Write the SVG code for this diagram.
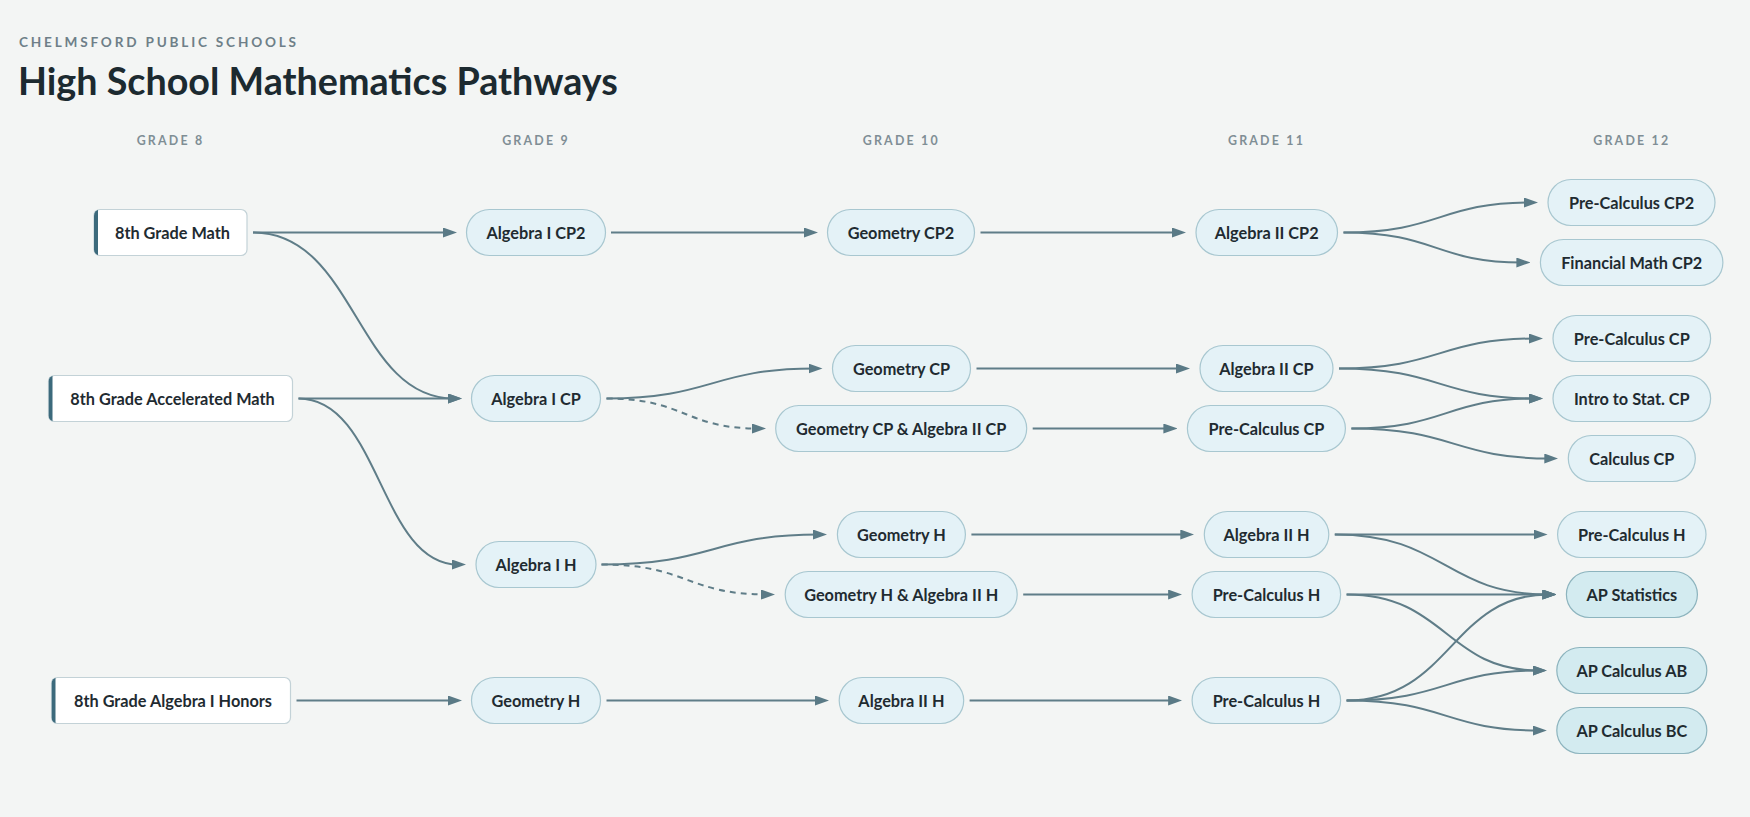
<svg xmlns="http://www.w3.org/2000/svg" width="1750" height="817" viewBox="0 0 1750 817">
<defs>
<style>
.bg{fill:#f3f5f4}
.kicker{font-family:Lato,"Liberation Sans",sans-serif;font-weight:700;font-size:13.6px;letter-spacing:2.8px;fill:#6e7f88}
.title{font-family:Lato,"Liberation Sans",sans-serif;font-weight:700;font-size:37.7px;fill:#1c2a30}
.grade{font-family:Lato,"Liberation Sans",sans-serif;font-weight:700;font-size:12.4px;letter-spacing:2.2px;fill:#7f8e95;text-anchor:middle}
.lbl{font-family:Lato,"Liberation Sans",sans-serif;font-weight:700;font-size:16.3px;fill:#1f2b31;text-anchor:middle}
.start rect.box{fill:#ffffff;stroke:#c3d2d7;stroke-width:1.2}
.start rect.bar{fill:#3c6a7c}
.pill rect{fill:#e4f2f7;stroke:#a8c7d0;stroke-width:1.2}
.ap rect{fill:#d3ebf0;stroke:#8db4be;stroke-width:1.2}
.edge{fill:none;stroke:#5f7d88;stroke-width:2}
.dash{stroke-dasharray:6 5}
</style>
<marker id="arr" viewBox="0 0 14 10" refX="6" refY="5" markerWidth="14" markerHeight="10" markerUnits="userSpaceOnUse" orient="auto">
<path d="M0,0 L14,5 L0,10 z" fill="#5a7a86"/>
</marker>
<clipPath id="c8math"><rect x="94" y="209.5" width="153" height="46" rx="6"/></clipPath>
<clipPath id="c8acc"><rect x="48.5" y="375.5" width="244" height="46" rx="6"/></clipPath>
<clipPath id="c8hon"><rect x="51.5" y="677.5" width="239" height="46" rx="6"/></clipPath>
</defs>
<rect class="bg" x="0" y="0" width="1750" height="817"/>

<g id="header">
<text class="kicker" x="19" y="47">CHELMSFORD PUBLIC SCHOOLS</text>
<text class="title" x="18" y="95">High School Mathematics Pathways</text>
<text class="grade" x="170.5" y="145">GRADE 8</text>
<text class="grade" x="536" y="145">GRADE 9</text>
<text class="grade" x="901.3" y="145">GRADE 10</text>
<text class="grade" x="1266.5" y="145">GRADE 11</text>
<text class="grade" x="1631.8" y="145">GRADE 12</text>
</g>

<g id="connectors" marker-end="url(#arr)">
<path class="edge" d="M253,232.5 L449,232.5"/>
<path class="edge" d="M253,232.5 C356,232.5 356,398.5 454,398.5"/>
<path class="edge" d="M298.5,398.5 L454,398.5"/>
<path class="edge" d="M298.5,398.5 C380,398.5 380,564.5 458,564.5"/>
<path class="edge" d="M296.5,700.5 L454,700.5"/>
<path class="edge" d="M611,232.5 L810,232.5"/>
<path class="edge" d="M606.5,398.5 C712,398.5 712,368.5 814.5,368.5"/>
<path class="edge dash" d="M606.5,398.5 C685,398.5 685,428.5 758,428.5"/>
<path class="edge" d="M601.5,564.5 C713,564.5 713,534.5 819,534.5"/>
<path class="edge dash" d="M601.5,564.5 C687,564.5 687,594.5 767,594.5"/>
<path class="edge" d="M606.5,700.5 L821,700.5"/>
<path class="edge" d="M980.5,232.5 L1178,232.5"/>
<path class="edge" d="M976.5,368.5 L1182,368.5"/>
<path class="edge" d="M1032.7,428.5 L1169.4,428.5"/>
<path class="edge" d="M971.4,534.5 L1186.3,534.5"/>
<path class="edge" d="M1023.2,594.5 L1174.1,594.5"/>
<path class="edge" d="M969.6,700.5 L1174.1,700.5"/>
<path class="edge" d="M1343.5,232.5 C1440,232.5 1440,202.5 1530,202.5"/>
<path class="edge" d="M1343.5,232.5 C1436,232.5 1436,262.5 1522.4,262.5"/>
<path class="edge" d="M1339,368.5 C1440,368.5 1440,338.5 1535,338.5"/>
<path class="edge" d="M1339,368.5 C1440,368.5 1440,398.5 1535,398.5"/>
<path class="edge" d="M1351.4,428.5 C1446,428.5 1446,398.5 1535,398.5"/>
<path class="edge" d="M1351.4,428.5 C1454,428.5 1454,458.5 1550.3,458.5"/>
<path class="edge" d="M1334.8,534.5 L1539.6,534.5"/>
<path class="edge" d="M1334.8,534.5 C1445,534.5 1445,594.5 1548.4,594.5"/>
<path class="edge" d="M1346.6,594.5 L1548.4,594.5"/>
<path class="edge" d="M1346.6,594.5 C1446,594.5 1446,670.5 1538.8,670.5"/>
<path class="edge" d="M1346.6,700.5 C1451,700.5 1451,594.5 1548.4,594.5"/>
<path class="edge" d="M1346.6,700.5 C1446,700.5 1446,670.5 1538.8,670.5"/>
<path class="edge" d="M1346.6,700.5 C1446,700.5 1446,730.5 1538.8,730.5"/>
</g>

<g id="n-8th-grade-math" class="start">
<rect class="box" x="94" y="209.5" width="153" height="46" rx="6"/>
<rect class="bar" x="94" y="209.5" width="4" height="46" clip-path="url(#c8math)"/>
<text class="lbl" x="172.5" y="238.5">8th Grade Math</text>
</g>
<g id="n-8th-grade-accelerated" class="start">
<rect class="box" x="48.5" y="375.5" width="244" height="46" rx="6"/>
<rect class="bar" x="48.5" y="375.5" width="4" height="46" clip-path="url(#c8acc)"/>
<text class="lbl" x="172.5" y="404.5">8th Grade Accelerated Math</text>
</g>
<g id="n-8th-grade-algebra-honors" class="start">
<rect class="box" x="51.5" y="677.5" width="239" height="46" rx="6"/>
<rect class="bar" x="51.5" y="677.5" width="4" height="46" clip-path="url(#c8hon)"/>
<text class="lbl" x="173" y="706.5">8th Grade Algebra I Honors</text>
</g>

<g id="n-algebra1-cp2" class="pill"><rect x="466.5" y="209.5" width="139" height="46" rx="23"/><text class="lbl" x="536" y="238.5">Algebra I CP2</text></g>
<g id="n-algebra1-cp" class="pill"><rect x="471.5" y="375.5" width="129" height="46" rx="23"/><text class="lbl" x="536" y="404.5">Algebra I CP</text></g>
<g id="n-algebra1-h" class="pill"><rect x="476" y="541.5" width="120" height="46" rx="23"/><text class="lbl" x="536" y="570.5">Algebra I H</text></g>
<g id="n-geometry-h-9" class="pill"><rect x="471.5" y="677.5" width="129" height="46" rx="23"/><text class="lbl" x="536" y="706.5">Geometry H</text></g>

<g id="n-geometry-cp2" class="pill"><rect x="827.5" y="209.5" width="147" height="46" rx="23"/><text class="lbl" x="901" y="238.5">Geometry CP2</text></g>
<g id="n-geometry-cp" class="pill"><rect x="832.5" y="345.5" width="138" height="46" rx="23"/><text class="lbl" x="901.5" y="374.5">Geometry CP</text></g>
<g id="n-geometry-cp-algebra2-cp" class="pill"><rect x="775.7" y="405.5" width="251" height="46" rx="23"/><text class="lbl" x="901.2" y="434.5">Geometry CP &amp; Algebra II CP</text></g>
<g id="n-geometry-h-10" class="pill"><rect x="837.4" y="511.5" width="128" height="46" rx="23"/><text class="lbl" x="901.4" y="540.5">Geometry H</text></g>
<g id="n-geometry-h-algebra2-h" class="pill"><rect x="785.2" y="571.5" width="232" height="46" rx="23"/><text class="lbl" x="901.2" y="600.5">Geometry H &amp; Algebra II H</text></g>
<g id="n-algebra2-h-10" class="pill"><rect x="839.2" y="677.5" width="124.5" height="46" rx="23"/><text class="lbl" x="901.4" y="706.5">Algebra II H</text></g>

<g id="n-algebra2-cp2" class="pill"><rect x="1196" y="209.5" width="141.5" height="46" rx="23"/><text class="lbl" x="1266.7" y="238.5">Algebra II CP2</text></g>
<g id="n-algebra2-cp" class="pill"><rect x="1200" y="345.5" width="133" height="46" rx="23"/><text class="lbl" x="1266.4" y="374.5">Algebra II CP</text></g>
<g id="n-precalc-cp-11" class="pill"><rect x="1187.4" y="405.5" width="158" height="46" rx="23"/><text class="lbl" x="1266.4" y="434.5">Pre-Calculus CP</text></g>
<g id="n-algebra2-h-11" class="pill"><rect x="1204.3" y="511.5" width="124.5" height="46" rx="23"/><text class="lbl" x="1266.5" y="540.5">Algebra II H</text></g>
<g id="n-precalc-h-11a" class="pill"><rect x="1192.1" y="571.5" width="148.5" height="46" rx="23"/><text class="lbl" x="1266.4" y="600.5">Pre-Calculus H</text></g>
<g id="n-precalc-h-11b" class="pill"><rect x="1192.1" y="677.5" width="148.5" height="46" rx="23"/><text class="lbl" x="1266.4" y="706.5">Pre-Calculus H</text></g>

<g id="n-precalc-cp2-12" class="pill"><rect x="1548" y="179.5" width="167" height="46" rx="23"/><text class="lbl" x="1631.6" y="208.5">Pre-Calculus CP2</text></g>
<g id="n-financial-math-cp2" class="pill"><rect x="1540.4" y="239.5" width="182.5" height="46" rx="23"/><text class="lbl" x="1631.7" y="268.5">Financial Math CP2</text></g>
<g id="n-precalc-cp-12" class="pill"><rect x="1553" y="315.5" width="157.6" height="46" rx="23"/><text class="lbl" x="1631.8" y="344.5">Pre-Calculus CP</text></g>
<g id="n-intro-stat-cp" class="pill"><rect x="1553" y="375.5" width="157.6" height="46" rx="23"/><text class="lbl" x="1631.8" y="404.5">Intro to Stat. CP</text></g>
<g id="n-calculus-cp" class="pill"><rect x="1568.3" y="435.5" width="127" height="46" rx="23"/><text class="lbl" x="1631.8" y="464.5">Calculus CP</text></g>
<g id="n-precalc-h-12" class="pill"><rect x="1557.6" y="511.5" width="148.4" height="46" rx="23"/><text class="lbl" x="1631.8" y="540.5">Pre-Calculus H</text></g>
<g id="n-ap-statistics" class="ap"><rect x="1566.4" y="571.5" width="131" height="46" rx="23"/><text class="lbl" x="1631.9" y="600.5">AP Statistics</text></g>
<g id="n-ap-calculus-ab" class="ap"><rect x="1556.8" y="647.5" width="150" height="46" rx="23"/><text class="lbl" x="1631.8" y="676.5">AP Calculus AB</text></g>
<g id="n-ap-calculus-bc" class="ap"><rect x="1556.8" y="707.5" width="150" height="46" rx="23"/><text class="lbl" x="1631.8" y="736.5">AP Calculus BC</text></g>
</svg>
